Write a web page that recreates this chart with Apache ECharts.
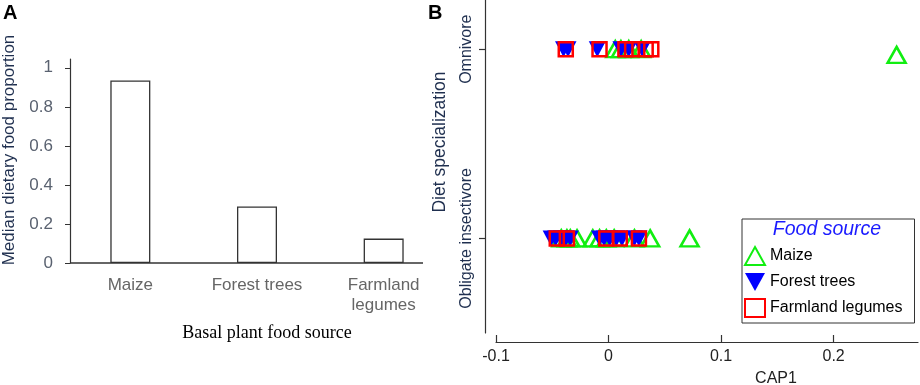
<!DOCTYPE html>
<html>
<head>
<meta charset="utf-8">
<script src="https://cdn.jsdelivr.net/npm/echarts@6/dist/echarts.min.js"></script>
<style>
  html, body { margin: 0; padding: 0; background: #fff; }
  #chart { width: 920px; height: 385px; }
</style>
</head>
<body>
<div id="chart"></div>
<script>
// panel A
const sources = ['Maize', 'Forest trees', 'Farmland\nlegumes'];
const medianProportion = [0.935, 0.29, 0.125];
const propTicks = [0, 0.2, 0.4, 0.6, 0.8, 1];

// panel B: [CAP1, diet] with diet 1 = Omnivore, 0 = Obligate insectivore
const dietNames = ['Obligate insectivore', 'Omnivore'];
const capTicks = [-0.1, 0, 0.1, 0.2];
const maizePoints = [
  [0.006, 1], [0.011, 1], [0.018, 1], [0.029, 1], [0.256, 0.97],
  [-0.042, 0], [-0.037, 0], [-0.034, 0], [-0.028, 0], [-0.014, 0], [-0.008, 0],
  [-0.002, 0], [0.005, 0], [0.023, 0], [0.037, 0], [0.072, 0]
];
const forestPoints = [
  [-0.040, 1], [-0.036, 1], [-0.010, 1], [0.011, 1], [0.018, 1], [0.030, 1],
  [-0.051, 0], [-0.047, 0], [-0.042, 0], [-0.038, 0], [-0.034, 0], [-0.008, 0],
  [-0.004, 0], [0.001, 0], [0.007, 0], [0.012, 0], [0.023, 0], [0.027, 0]
];
const legumePoints = [
  [-0.038, 1], [-0.008, 1], [0.015, 1], [0.021, 1], [0.033, 1], [0.038, 1],
  [-0.046, 0], [-0.037, 0], [-0.002, 0], [0.010, 0], [0.027, 0]
];

const sans = 'Liberation Sans, Arial, sans-serif';
const axisDark = '#333';

const chart = echarts.init(document.getElementById('chart'), null, { renderer: 'canvas' });

chart.setOption({
  animation: false,
  backgroundColor: '#fff',
  textStyle: { fontFamily: sans },
  grid: [
    { left: 67, right: 473, top: 59, bottom: 122 },
    { left: 496, right: 2, top: 0, bottom: 52 }
  ],
  xAxis: [
    {
      gridIndex: 0,
      type: 'category',
      data: sources,
      axisLine: { show: false },
      axisTick: { show: false },
      axisLabel: { color: '#666', fontSize: 17, lineHeight: 20, margin: 12, interval: 0 }
    },
    {
      gridIndex: 1,
      type: 'value',
      min: -0.1,
      max: 0.275,
      interval: 0.1,
      offset: 9,
      splitLine: { show: false },
      axisLine: { onZero: false, lineStyle: { color: axisDark, width: 1.2 } },
      axisTick: { inside: true, length: 7, customValues: capTicks, lineStyle: { color: axisDark, width: 1.2 } },
      axisLabel: { customValues: capTicks, color: '#222', fontSize: 16, margin: 7 }
    }
  ],
  yAxis: [
    {
      gridIndex: 0,
      type: 'value',
      min: 0,
      max: 1.045,
      offset: -3,
      splitLine: { show: false },
      axisLine: { show: true, onZero: false, lineStyle: { color: axisDark, width: 1.2 } },
      axisTick: { show: true, length: 5, customValues: propTicks, lineStyle: { color: axisDark } },
      axisLabel: { customValues: propTicks, color: '#5a6270', fontSize: 17, margin: 17 }
    },
    {
      gridIndex: 1,
      type: 'value',
      min: -0.5,
      max: 1.26,
      offset: 11,
      splitLine: { show: false },
      axisLine: { show: true, onZero: false, lineStyle: { color: axisDark, width: 1.2 } },
      axisTick: { show: true, length: 6, customValues: [0, 1], lineStyle: { color: axisDark, width: 1.2 } },
      axisLabel: {
        customValues: [0, 1],
        rotate: 90,
        margin: 10,
        color: '#1f2f4f',
        fontSize: 16,
        formatter: v => dietNames[Math.round(v)]
      }
    }
  ],
  legend: {
    orient: 'vertical',
    left: 742,
    top: 219,
    padding: [27, 12, 5, 2],
    itemWidth: 20,
    itemHeight: 18,
    itemGap: 7,
    backgroundColor: '#fff',
    borderColor: '#333',
    borderWidth: 1,
    textStyle: { color: '#000', fontSize: 16, lineHeight: 18, fontFamily: sans },
    data: [
      { name: 'Maize' },
      { name: 'Forest trees', icon: 'path://M0,0 L20,0 L10,18 Z' },
      { name: 'Farmland legumes' }
    ]
  },
  series: [
    {
      type: 'bar',
      xAxisIndex: 0,
      yAxisIndex: 0,
      barWidth: 40,
      data: medianProportion,
      itemStyle: { color: '#fff', borderColor: '#333', borderWidth: 1.3 }
    },
    {
      name: 'Maize',
      type: 'scatter',
      xAxisIndex: 1,
      yAxisIndex: 1,
      symbol: 'triangle',
      symbolSize: [18, 16],
      data: maizePoints,
      itemStyle: { color: 'rgba(0,0,0,0)', borderColor: '#11ee11', borderWidth: 2.5, opacity: 1 }
    },
    {
      name: 'Forest trees',
      type: 'scatter',
      xAxisIndex: 1,
      yAxisIndex: 1,
      symbol: 'triangle',
      symbolRotate: 180,
      symbolSize: [17, 16],
      data: forestPoints,
      itemStyle: { color: '#0000ff', opacity: 1 }
    },
    {
      name: 'Farmland legumes',
      type: 'scatter',
      xAxisIndex: 1,
      yAxisIndex: 1,
      symbol: 'rect',
      symbolSize: 14,
      data: legumePoints,
      itemStyle: { color: 'rgba(0,0,0,0)', borderColor: '#ff0000', borderWidth: 2.5, opacity: 1 }
    }
  ],
  graphic: [
    // panel A x axis line (shorter than the category band)
    { type: 'line', z: 10, shape: { x1: 70, y1: 263, x2: 423, y2: 263 }, style: { stroke: axisDark, lineWidth: 1.3 } },
    { type: 'text', z: 10, x: 3, y: 3, style: { text: 'A', font: 'bold 20px ' + sans, fill: '#000' } },
    { type: 'text', z: 10, x: 428, y: 3, style: { text: 'B', font: 'bold 20px ' + sans, fill: '#000' } },
    {
      type: 'text', z: 10, x: 9, y: 150, rotation: Math.PI / 2,
      style: { text: 'Median dietary food proportion', font: '17px ' + sans, fill: '#1f2f4f', align: 'center', verticalAlign: 'middle' }
    },
    {
      type: 'text', z: 10, x: 267, y: 333,
      style: { text: 'Basal plant food source', font: '18px Liberation Serif, Times New Roman, serif', fill: '#000', align: 'center', verticalAlign: 'middle' }
    },
    {
      type: 'text', z: 10, x: 440, y: 142, rotation: Math.PI / 2,
      style: { text: 'Diet specialization', font: '17.5px ' + sans, fill: '#1f2f4f', align: 'center', verticalAlign: 'middle' }
    },
    {
      type: 'text', z: 10, x: 776, y: 379,
      style: { text: 'CAP1', font: '16px ' + sans, fill: '#222', align: 'center', verticalAlign: 'middle' }
    },
    {
      type: 'text', z: 100, x: 827, y: 230,
      style: { text: 'Food source', font: 'italic 19.5px ' + sans, fill: '#1a1aff', align: 'center', verticalAlign: 'middle' }
    }
  ]
});
</script>
</body>
</html>
